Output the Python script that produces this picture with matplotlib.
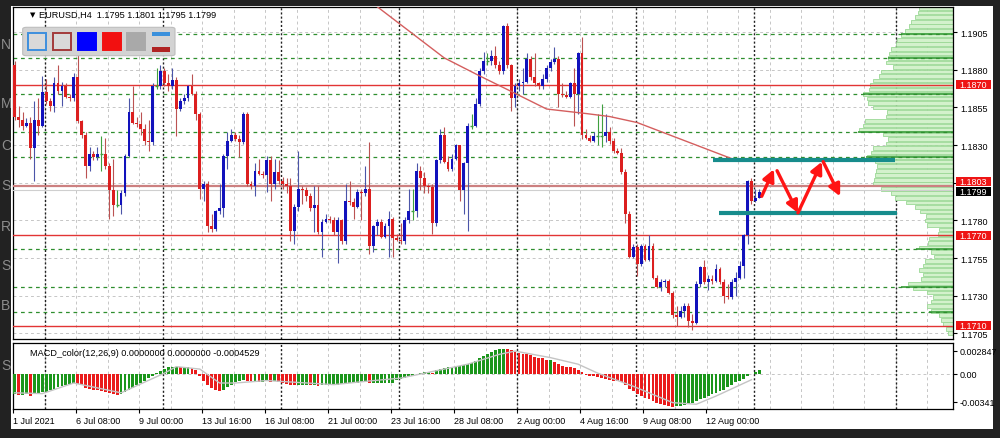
import numpy as np
import matplotlib.pyplot as plt
from matplotlib.patches import Rectangle, FancyBboxPatch
from matplotlib.transforms import blended_transform_factory

plt.rcParams['font.family'] = ['Liberation Sans', 'DejaVu Sans']

# EURUSD H4 candles, first visible bar = 1 Jul 2021 16:00
opens = [1.1883, 1.1849, 1.1847, 1.1843, 1.1845, 1.1828, 1.1847, 1.1843, 1.1865, 1.1859,
         1.1856, 1.1871, 1.1866, 1.1869, 1.1862, 1.1861, 1.1875, 1.1846, 1.1837, 1.1816,
         1.1824, 1.1822, 1.1824, 1.1824, 1.1816, 1.1800, 1.1790, 1.1790, 1.1798, 1.1823,
         1.1852, 1.1845, 1.1844, 1.1841, 1.1833, 1.1832, 1.1869, 1.1869, 1.1879, 1.1871,
         1.1869, 1.1873, 1.1854, 1.1859, 1.1861, 1.1869, 1.1864, 1.1851, 1.1801, 1.1804,
         1.1776, 1.1774, 1.1786, 1.1788, 1.1823, 1.1833, 1.1837, 1.1834, 1.1832, 1.1851,
         1.1804, 1.1803, 1.1813, 1.1811, 1.1810, 1.1820, 1.1804, 1.1812, 1.1806, 1.1804,
         1.1803, 1.1773, 1.1789, 1.1801, 1.1800, 1.1796, 1.1788, 1.1790, 1.1772, 1.1779,
         1.1781, 1.1780, 1.1772, 1.1780, 1.1766, 1.1793, 1.1792, 1.1789, 1.1799, 1.1798,
         1.1801, 1.1763, 1.1776, 1.1779, 1.1769, 1.1776, 1.1781, 1.1768, 1.1767, 1.1766,
         1.1780, 1.1786, 1.1786, 1.1813, 1.1808, 1.1803, 1.1802, 1.1778, 1.1820, 1.1837,
         1.1819, 1.1814, 1.1821, 1.1830, 1.1800, 1.1818, 1.1843, 1.1843, 1.1857, 1.1879,
         1.1886, 1.1886, 1.1889, 1.1883, 1.1879, 1.1909, 1.1883, 1.1861, 1.1869, 1.1871,
         1.1872, 1.1887, 1.1875, 1.1871, 1.1869, 1.1874, 1.1881, 1.1885, 1.1887, 1.1864,
         1.1863, 1.1862, 1.1871, 1.1864, 1.1891, 1.1837, 1.1835, 1.1833, 1.1836, 1.1836,
         1.1836, 1.1839, 1.1833, 1.1826, 1.1825, 1.1812, 1.1784, 1.1756, 1.1762, 1.1751,
         1.1763, 1.1754, 1.1763, 1.1742, 1.1736, 1.1739, 1.1740, 1.1732, 1.1717, 1.1716,
         1.1720, 1.1723, 1.1713, 1.1712, 1.1738, 1.1749, 1.1739, 1.1741, 1.1740, 1.1748,
         1.1739, 1.1730, 1.1729, 1.1739, 1.1742, 1.1750, 1.1770, 1.1806, 1.1793, 1.1795]
highs = [1.1886, 1.1856, 1.1852, 1.1848, 1.1849, 1.1859, 1.1861, 1.1876, 1.1874, 1.1861,
         1.1875, 1.1883, 1.1872, 1.1871, 1.1864, 1.1878, 1.1896, 1.1847, 1.1839, 1.1829,
         1.1826, 1.1829, 1.1836, 1.1835, 1.1818, 1.1821, 1.1800, 1.1800, 1.1824, 1.1861,
         1.1869, 1.1849, 1.1852, 1.1844, 1.1847, 1.1871, 1.1881, 1.1883, 1.1881, 1.1877,
         1.1881, 1.1875, 1.1861, 1.1864, 1.1870, 1.1877, 1.1866, 1.1852, 1.1806, 1.1806,
         1.1784, 1.1787, 1.1804, 1.1824, 1.1839, 1.1841, 1.1839, 1.1837, 1.1852, 1.1852,
         1.1806, 1.1818, 1.1821, 1.1813, 1.1823, 1.1823, 1.1821, 1.1820, 1.1809, 1.1808,
         1.1808, 1.1791, 1.1826, 1.1803, 1.1802, 1.1798, 1.1803, 1.1803, 1.1781, 1.1784,
         1.1783, 1.1782, 1.1782, 1.1781, 1.1804, 1.1806, 1.1795, 1.1801, 1.1801, 1.1816,
         1.1832, 1.1777, 1.1781, 1.1781, 1.1778, 1.1786, 1.1782, 1.1771, 1.1778, 1.1782,
         1.1801, 1.1801, 1.1818, 1.1816, 1.1812, 1.1804, 1.1804, 1.1821, 1.1841, 1.1842,
         1.1823, 1.1824, 1.1831, 1.1830, 1.1819, 1.1845, 1.1851, 1.1861, 1.1881, 1.1892,
         1.1891, 1.1893, 1.1896, 1.1886, 1.1910, 1.1911, 1.1884, 1.1871, 1.1874, 1.1881,
         1.1891, 1.1889, 1.1891, 1.1872, 1.1877, 1.1883, 1.1887, 1.1895, 1.1889, 1.1871,
         1.1866, 1.1872, 1.1881, 1.1892, 1.1902, 1.1841, 1.1837, 1.1839, 1.1851, 1.1857,
         1.1851, 1.1842, 1.1835, 1.1828, 1.1828, 1.1814, 1.1786, 1.1764, 1.1764, 1.1764,
         1.1764, 1.1770, 1.1765, 1.1744, 1.1741, 1.1741, 1.1741, 1.1733, 1.1723, 1.1723,
         1.1725, 1.1725, 1.1718, 1.1740, 1.1750, 1.1754, 1.1744, 1.1744, 1.1751, 1.1749,
         1.1741, 1.1738, 1.1741, 1.1746, 1.1753, 1.1771, 1.1807, 1.1808, 1.1801, 1.1801]
lows = [1.1847, 1.1842, 1.1840, 1.1842, 1.1821, 1.1806, 1.1837, 1.1842, 1.1857, 1.1853,
        1.1852, 1.1864, 1.1856, 1.1861, 1.1859, 1.1859, 1.1845, 1.1835, 1.1808, 1.1813,
        1.1820, 1.1820, 1.1813, 1.1814, 1.1781, 1.1783, 1.1789, 1.1784, 1.1796, 1.1822,
        1.1844, 1.1842, 1.1837, 1.1830, 1.1826, 1.1830, 1.1867, 1.1867, 1.1869, 1.1866,
        1.1867, 1.1836, 1.1853, 1.1857, 1.1859, 1.1863, 1.1847, 1.1794, 1.1793, 1.1772,
        1.1772, 1.1773, 1.1784, 1.1782, 1.1814, 1.1832, 1.1833, 1.1822, 1.1831, 1.1803,
        1.1801, 1.1796, 1.1810, 1.1808, 1.1799, 1.1793, 1.1801, 1.1804, 1.1801, 1.1798,
        1.1766, 1.1764, 1.1786, 1.1791, 1.1793, 1.1786, 1.1772, 1.1771, 1.1756, 1.1778,
        1.1778, 1.1770, 1.1752, 1.1764, 1.1764, 1.1790, 1.1781, 1.1788, 1.1780, 1.1796,
        1.1758, 1.1759, 1.1770, 1.1768, 1.1768, 1.1756, 1.1756, 1.1766, 1.1764, 1.1764,
        1.1778, 1.1780, 1.1782, 1.1800, 1.1798, 1.1798, 1.1771, 1.1776, 1.1818, 1.1818,
        1.1813, 1.1813, 1.1820, 1.1793, 1.1784, 1.1773, 1.1841, 1.1842, 1.1856, 1.1877,
        1.1883, 1.1883, 1.1881, 1.1877, 1.1877, 1.1881, 1.1853, 1.1855, 1.1866, 1.1864,
        1.1871, 1.1873, 1.1869, 1.1867, 1.1867, 1.1872, 1.1879, 1.1884, 1.1855, 1.1862,
        1.1861, 1.1861, 1.1843, 1.1851, 1.1834, 1.1834, 1.1832, 1.1832, 1.1830, 1.1829,
        1.1832, 1.1831, 1.1825, 1.1824, 1.1811, 1.1778, 1.1755, 1.1755, 1.1743, 1.1750,
        1.1753, 1.1753, 1.1741, 1.1735, 1.1733, 1.1736, 1.1731, 1.1715, 1.1710, 1.1715,
        1.1716, 1.1709, 1.1707, 1.1711, 1.1736, 1.1738, 1.1734, 1.1738, 1.1739, 1.1738,
        1.1725, 1.1728, 1.1728, 1.1730, 1.1741, 1.1742, 1.1764, 1.1791, 1.1792, 1.1795]
closes = [1.1849, 1.1847, 1.1843, 1.1845, 1.1828, 1.1847, 1.1843, 1.1865, 1.1859, 1.1856,
          1.1871, 1.1866, 1.1869, 1.1862, 1.1861, 1.1875, 1.1846, 1.1837, 1.1816, 1.1824,
          1.1822, 1.1824, 1.1824, 1.1816, 1.1800, 1.1790, 1.1790, 1.1798, 1.1823, 1.1852,
          1.1845, 1.1844, 1.1841, 1.1833, 1.1832, 1.1869, 1.1869, 1.1879, 1.1871, 1.1869,
          1.1873, 1.1854, 1.1859, 1.1861, 1.1869, 1.1864, 1.1851, 1.1801, 1.1804, 1.1776,
          1.1774, 1.1786, 1.1788, 1.1823, 1.1833, 1.1837, 1.1834, 1.1832, 1.1851, 1.1804,
          1.1803, 1.1813, 1.1811, 1.1810, 1.1820, 1.1804, 1.1812, 1.1806, 1.1804, 1.1803,
          1.1773, 1.1789, 1.1801, 1.1800, 1.1796, 1.1788, 1.1790, 1.1772, 1.1779, 1.1781,
          1.1780, 1.1772, 1.1780, 1.1766, 1.1793, 1.1792, 1.1789, 1.1799, 1.1798, 1.1801,
          1.1763, 1.1776, 1.1779, 1.1769, 1.1776, 1.1781, 1.1768, 1.1767, 1.1766, 1.1780,
          1.1786, 1.1786, 1.1813, 1.1808, 1.1803, 1.1802, 1.1778, 1.1820, 1.1837, 1.1819,
          1.1814, 1.1821, 1.1830, 1.1800, 1.1818, 1.1843, 1.1843, 1.1857, 1.1879, 1.1886,
          1.1886, 1.1889, 1.1883, 1.1879, 1.1909, 1.1883, 1.1861, 1.1869, 1.1871, 1.1872,
          1.1887, 1.1875, 1.1871, 1.1869, 1.1874, 1.1881, 1.1885, 1.1887, 1.1864, 1.1863,
          1.1862, 1.1871, 1.1864, 1.1891, 1.1837, 1.1835, 1.1833, 1.1836, 1.1836, 1.1836,
          1.1839, 1.1833, 1.1826, 1.1825, 1.1812, 1.1784, 1.1756, 1.1762, 1.1751, 1.1763,
          1.1754, 1.1763, 1.1742, 1.1736, 1.1739, 1.1740, 1.1732, 1.1717, 1.1716, 1.1720,
          1.1723, 1.1713, 1.1712, 1.1738, 1.1749, 1.1739, 1.1741, 1.1740, 1.1748, 1.1739,
          1.1730, 1.1729, 1.1739, 1.1742, 1.1750, 1.1770, 1.1806, 1.1793, 1.1795, 1.1799]

# MACD_color(12,26,9) main values per bar
macd = [-0.0025, -0.0026, -0.0026, -0.0025, -0.0027, -0.0024, -0.0023, -0.0022, -0.0022, -0.0020,
        -0.0018, -0.0016, -0.0015, -0.0013, -0.0012, -0.0011, -0.0012, -0.0014, -0.0017, -0.0018,
        -0.0019, -0.0020, -0.0021, -0.0022, -0.0023, -0.0025, -0.0026, -0.0025, -0.0022, -0.0019,
        -0.0017, -0.0014, -0.0011, -0.0008, -0.0005, -0.0002, 0.0001, 0.0004, 0.0006, 0.0008,
        0.0009, 0.0009, 0.0008, 0.0008, 0.0008, 0.0007, 0.0005, -0.0003, -0.0008, -0.0013,
        -0.0017, -0.0019, -0.0021, -0.0019, -0.0016, -0.0013, -0.0010, -0.0008, -0.0007, -0.0008,
        -0.0009, -0.0009, -0.0010, -0.0010, -0.0009, -0.0010, -0.0009, -0.0010, -0.0011, -0.0012,
        -0.0013, -0.0014, -0.0013, -0.0013, -0.0013, -0.0014, -0.0014, -0.0015, -0.0014, -0.0014,
        -0.0013, -0.0013, -0.0013, -0.0012, -0.0012, -0.0011, -0.0011, -0.0011, -0.0010, -0.0010,
        -0.0011, -0.0011, -0.0011, -0.0011, -0.0011, -0.0011, -0.0011, -0.0007, -0.0006, -0.0005,
        -0.0003, -0.0002, 0.0000, 0.0001, 0.0002, 0.0002, 0.0001, 0.0005, 0.0006, 0.0007,
        0.0008, 0.0008, 0.0008, 0.0010, 0.0011, 0.0012, 0.0014, 0.0016, 0.0019, 0.0022,
        0.0025, 0.0027, 0.0029, 0.0030, 0.0031, 0.0030, 0.0029, 0.0027, 0.0026, 0.0025,
        0.0024, 0.0023, 0.0021, 0.0020, 0.0019, 0.0017, 0.0017, 0.0015, 0.0012, 0.0010,
        0.0009, 0.0008, 0.0007, 0.0005, 0.0003, -0.0001, -0.0002, -0.0003, -0.0004, -0.0005,
        -0.0006, -0.0007, -0.0008, -0.0009, -0.0010, -0.0013, -0.0018, -0.0021, -0.0024, -0.0027,
        -0.0029, -0.0031, -0.0033, -0.0035, -0.0037, -0.0038, -0.0039, -0.0040, -0.0039, -0.0039,
        -0.0038, -0.0037, -0.0035, -0.0033, -0.0031, -0.0029, -0.0027, -0.0025, -0.0023, -0.0021,
        -0.0019, -0.0016, -0.0013, -0.0010, -0.0008, -0.0006, -0.0003, 0.0000, 0.0003, 0.0005]
signal_bar = [0, 7, 15, 27, 38, 41, 47, 52, 56, 64, 81, 89, 98, 106, 115, 123, 127, 136,
              143, 148, 157, 167, 173, 178, 187]
signal_val = [-0.0023, -0.0024, -0.0011, -0.0023, 0.0001, 0.0009, 0.0006, -0.0011, -0.0011,
              -0.0008, -0.0013, -0.0009, -0.0005, 0.0003, 0.0012, 0.0024, 0.0028, 0.0020,
              0.0012, 0.0001, -0.0015, -0.0035, -0.0037, -0.0027, -0.0007]

# moving average (read at a few bars)
ma_bar = [89, 92, 98, 109, 118, 125, 135, 145, 151, 158, 164, 171, 182]
ma_val = [1.1932, 1.1922, 1.1910, 1.1888, 1.1876, 1.1867, 1.1854, 1.1851, 1.1849,
          1.1845, 1.1839, 1.1832, 1.1821]

# levels
red_levels = [1.1870, 1.1770, 1.1710]
green_levels = [1.1904, 1.1888, 1.1864, 1.1839, 1.1822, 1.1761, 1.1736, 1.1719]
pink_level = 1.1803
bid_price = 1.1799
price_ticks = [1.1705, 1.1730, 1.1755, 1.1780, 1.1805, 1.1830, 1.1855, 1.1880, 1.1905]

# volume profile (price level, relative volume)
vp_price = [1.1705, 1.1708, 1.1711, 1.1714, 1.1717, 1.1720, 1.1723, 1.1726, 1.1729, 1.1732,
            1.1735, 1.1738, 1.1741, 1.1744, 1.1747, 1.1750, 1.1753, 1.1756, 1.1759, 1.1762,
            1.1765, 1.1768, 1.1771, 1.1774, 1.1777, 1.1780, 1.1783, 1.1786, 1.1789, 1.1792,
            1.1795, 1.1798, 1.1801, 1.1804, 1.1807, 1.1810, 1.1813, 1.1816, 1.1819, 1.1822,
            1.1825, 1.1828, 1.1831, 1.1834, 1.1837, 1.1840, 1.1843, 1.1846, 1.1849, 1.1852,
            1.1855, 1.1858, 1.1861, 1.1864, 1.1867, 1.1870, 1.1873, 1.1876, 1.1879, 1.1882,
            1.1885, 1.1888, 1.1891, 1.1894, 1.1897, 1.1900, 1.1903, 1.1906, 1.1909, 1.1912,
            1.1915, 1.1918, 1.1921]
vp_vol = [5, 7, 10, 12, 14, 22, 26, 22, 20, 26, 40, 45, 32, 30, 34, 30, 28, 19, 22, 34,
          25, 24, 15, 14, 26, 28, 27, 33, 38, 47, 58, 62, 72, 80, 79, 78, 77, 76, 78, 86,
          82, 80, 67, 65, 70, 94, 90, 88, 67, 66, 80, 85, 86, 90, 84, 83, 80, 74, 72, 60,
          67, 65, 64, 62, 57, 56, 52, 48, 44, 42, 38, 35, 34]
vp_peak_vol = [52, 65, 90, 95, 87, 37, 52, 24]

# drawn objects
teal_levels = [1.1820, 1.1785]
teal_from = [177.3, 178.7]
teal_to = [223.5, 224.0]
zigzag_bar = [189.6, 192.7, 193.5, 198.8, 198.8, 204.9, 205.2, 209.5]
zigzag_price = [1.1796, 1.1814, 1.1813, 1.1785, 1.1785, 1.1819, 1.1819, 1.1796]

separators = [8, 38, 68, 98, 128, 158, 188, 224]
time_ticks = [0, 16, 32, 48, 64, 80, 96, 112, 128, 144, 160, 176]
time_labels = ['1 Jul 2021', '6 Jul 08:00', '9 Jul 00:00', '13 Jul 16:00', '16 Jul 08:00',
               '21 Jul 00:00', '23 Jul 16:00', '28 Jul 08:00', '2 Aug 00:00', '4 Aug 16:00',
               '9 Aug 08:00', '12 Aug 00:00']

W, H = 1000, 439
fig = plt.figure(figsize=(W / 100, H / 100), dpi=100, facecolor='#222222')


def fr(x0, y0, x1, y1):
    # pixel box (top-left origin) -> figure fraction rect
    return [x0 / W, 1 - y1 / H, (x1 - x0) / W, (y1 - y0) / H]


# letters from the window behind
for ch, yy in zip('NMCSRSBS', [45, 104, 146, 186, 227, 266, 306, 366]):
    fig.text(1 / W, 1 - yy / H, ch, color='#8c8c8c', fontsize=10, va='center', zorder=-10)
r = fr(11, 7, 993, 430)
fig.patches.append(Rectangle((r[0], r[1]), r[2], r[3], transform=fig.transFigure,
                             fc='white', ec='none', zorder=-5))

ax = fig.add_axes(fr(12.7, 7.5, 953, 340))
mx = fig.add_axes(fr(12.7, 344, 953, 410), sharex=ax)

xmax = -0.5 + (953 - 12.7) / 3.94
ax.set_xlim(-0.5, xmax)
ax.set_ylim(1.17012, 1.19221)

idx = np.arange(len(closes))
o = np.array(opens)
c = np.array(closes)
h = np.array(highs)
l = np.array(lows)

for a in (ax, mx):
    for s in a.spines.values():
        s.set_color('black')
        s.set_linewidth(0.9)
    for k in range(8, 240, 8):
        a.axvline(k - 0.4, color='#c6c6c6', lw=0.7, ls=(0, (3, 3)), zorder=0)
    for k in separators:
        a.axvline(k - 0.4, color='#202020', lw=1.0, ls=(0, (1.5, 1.5)), zorder=1)

for p in price_ticks:
    ax.axhline(p, color='#c6c6c6', lw=0.7, ls=(0, (3, 3)), zorder=0)

# volume profile
vp_scale = 1 / 3.94
vp_w = np.array(vp_vol) * vp_scale
ax.barh(vp_price, vp_w, left=xmax - vp_w, height=0.00024, color='#d3f1cc',
        edgecolor='#9bd895', lw=0.6, zorder=1)
pk_w = np.array(vp_peak_vol) * vp_scale
ax.hlines(green_levels, xmax - pk_w, xmax, color='#45a445', lw=1.3, zorder=2)

for p in green_levels:
    ax.axhline(p, color='#2f8f2f', lw=0.9, ls=(0, (3, 3)), zorder=2)
for p in red_levels:
    ax.axhline(p, color='#e23434', lw=1.0, zorder=3)
ax.axhline(pink_level, color='#cc8080', lw=1.6, zorder=3)
ax.axhline(1.1800, color='#cfcfcf', lw=0.8, zorder=3)

# candles
up = c > o
dn = c < o
dj = c == o
wick = np.where(up, '#4b55a8', np.where(dn, '#bb5252', '#3fa03f'))
ax.vlines(idx, l, h, colors=wick, lw=0.8, zorder=4)
body = ~dj
ax.bar(idx[body], (c - o)[body], bottom=o[body], width=0.72,
       color=np.where(up[body], '#1212bc', '#dc1f1f'), lw=0, zorder=5)
ax.hlines(c[dj], idx[dj] - 0.36, idx[dj] + 0.36, color='#3fa03f', lw=1, zorder=5)

ax.plot(ma_bar, ma_val, color='#d45e5e', lw=1.0, zorder=6)

for p, x0, x1 in zip(teal_levels, teal_from, teal_to):
    ax.hlines(p, x0, x1, color='#178c8c', lw=3.0, zorder=7)
for i in range(0, len(zigzag_bar), 2):
    ax.annotate('', xy=(zigzag_bar[i + 1], zigzag_price[i + 1]),
                xytext=(zigzag_bar[i], zigzag_price[i]),
                arrowprops=dict(arrowstyle='-|>,head_length=0.7,head_width=0.35', lw=2.4,
                                color='#ff1414', shrinkA=0, shrinkB=0), zorder=8)

# price axis; the 1.1805 tick text is hidden behind the object labels there
ax.yaxis.tick_right()
ax.set_yticks(price_ticks)
ax.set_yticklabels(['' if p == 1.1805 else f'{p:.4f}' for p in price_ticks])
ax.tick_params(axis='y', labelsize=6.5, length=3, pad=2, width=0.8)
ax.tick_params(axis='x', bottom=False, labelbottom=False)

tr = blended_transform_factory(ax.transAxes, ax.transData)
bw = 35 / 940.3
# (label value, drawn centre, colour); the 1.1803 box sits half hidden above the bid box
for p, yc, fc in [(red_levels[0], red_levels[0], '#ee1515'),
                  (red_levels[1], red_levels[1], '#ee1515'),
                  (red_levels[2], red_levels[2], '#ee1515'),
                  (pink_level, pink_level + 0.00028, '#ee1515'),
                  (bid_price, bid_price, 'black')]:
    ax.add_patch(Rectangle((1.0032, yc - 0.0003), bw, 0.0006, transform=tr, fc=fc,
                           ec='none', clip_on=False, zorder=10))
    ax.text(1.0032 + bw / 2, yc, f'{p:.4f}', transform=tr, color='white', fontsize=6.5,
            ha='center', va='center', clip_on=False, zorder=11)

ax.text(17 / 940.3, 1 - 7.5 / 332.5, '\u25bc', transform=ax.transAxes, fontsize=5,
        va='center', ha='left', family=['DejaVu Sans'])
ax.text(26 / 940.3, 1 - 7.5 / 332.5, 'EURUSD,H4  1.1795 1.1801 1.1795 1.1799',
        transform=ax.transAxes, fontsize=6.6, va='center', ha='left', zorder=9)

# toolbar widget
tb = fr(22.7, 28.3, 175, 56.7)
fig.patches.append(FancyBboxPatch((tb[0], tb[1]), tb[2], tb[3], transform=fig.transFigure,
                                  boxstyle='round,pad=0,rounding_size=0.004',
                                  fc='#d3d3d3', ec='#bdbdbd', lw=0.8, zorder=20))
for x0, fc, ec in [(28, '#d9d9d9', '#3d8fde'), (52.5, '#d9d9d9', '#a33a3a'),
                   (78, '#0000ff', '#0000ff'), (102.5, '#f21010', '#f21010'),
                   (127, '#a9a9a9', '#a9a9a9')]:
    q = fr(x0, 33.5, x0 + 18, 51)
    fig.patches.append(Rectangle((q[0], q[1]), q[2], q[3], transform=fig.transFigure,
                                 fc=fc, ec=ec, lw=1.4, zorder=21))
for y0, y1, fc in [(33, 37, '#3a90dc'), (48, 52.5, '#b02424')]:
    q = fr(152, y0, 169.5, y1)
    fig.patches.append(Rectangle((q[0], q[1]), q[2], q[3], transform=fig.transFigure,
                                 fc=fc, ec='none', zorder=21))

# MACD panel
m = np.array(macd)
mcol = ['#1b961b' if k == 0 or m[k] >= m[k - 1] else '#ea1b1b' for k in range(len(m))]
mx.bar(idx, m, width=0.72, color=mcol, lw=0, zorder=3)
mx.plot(signal_bar, signal_val, color='#c4c4c4', lw=1.0, zorder=4)
mx.axhline(0, color='#c6c6c6', lw=0.7, ls=(0, (3, 3)), zorder=0)
mx.set_ylim(-0.004278, 0.003789)
mx.yaxis.tick_right()
mx.set_yticks([0.002847, 0.0, -0.00341])
mx.set_yticklabels(['0.002847', '0.00', '-0.00341'])
mx.tick_params(axis='y', labelsize=6.5, length=3, pad=2, width=0.8)
mx.set_xticks([t - 0.5 for t in time_ticks])
mx.set_xticklabels(time_labels, ha='left')
mx.tick_params(axis='x', labelsize=6.5, length=3, pad=2, width=0.8)
mx.text(17 / 940.3, 0.86, 'MACD_color(12,26,9) 0.0000000 0.0000000 -0.0004529',
        transform=mx.transAxes, fontsize=6.6, va='center', ha='left')

fig.savefig('out.png', dpi=100, facecolor=fig.get_facecolor())
